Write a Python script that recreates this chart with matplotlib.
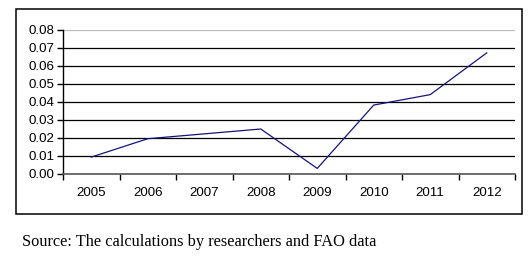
import numpy as np
import matplotlib
matplotlib.use("Agg")
import matplotlib.pyplot as plt
import matplotlib.ticker as mticker
from matplotlib.patches import Rectangle

# data
years = ["2005", "2006", "2007", "2008", "2009", "2010", "2011", "2012"]
values = [0.0094, 0.0196, 0.0223, 0.0250, 0.0031, 0.0383, 0.0441, 0.0673]
y_ticks = [0.00, 0.01, 0.02, 0.03, 0.04, 0.05, 0.06, 0.07, 0.08]

W, H = 531, 256
fig = plt.figure(figsize=(W / 100, H / 100), dpi=100, facecolor="white")

# outer frame around the chart
fig.patches.append(Rectangle((16 / W, 1 - 214 / H), (522 - 16) / W, (214 - 9) / H,
                             transform=fig.transFigure, fill=False,
                             edgecolor="black", linewidth=1.1))

ax = fig.add_axes([63 / W, 1 - 174 / H, (515 - 63) / W, 144 / H])
x = np.arange(len(years))
ax.plot(x, values, color="#14147a", linewidth=0.9, zorder=3)

ax.set_xlim(-0.5, len(years) - 0.5)
ax.set_ylim(0, 0.08)
ax.set_yticks(y_ticks)
ax.yaxis.set_major_formatter(mticker.FormatStrFormatter("%.2f"))

# category axis: tick marks between categories, labels centered
ax.set_xticks(x)
ax.set_xticklabels(years)
ax.set_xticks(np.arange(-0.5, len(years)), minor=True)
ax.tick_params(axis="x", which="major", length=0, pad=9)
ax.tick_params(axis="x", which="minor", length=4, width=1, direction="out", color="black")
ax.tick_params(axis="y", length=4, width=1, direction="out", pad=2)

for t in ax.get_xticklabels() + ax.get_yticklabels():
    t.set_fontfamily("Liberation Sans")
    t.set_fontsize(9.6)

# horizontal gridlines
for v in y_ticks[1:]:
    col = "#b8b8b8" if v == 0.08 else "black"
    ax.axhline(v, color=col, linewidth=0.9, zorder=1)

ax.spines[["top", "right"]].set_visible(False)
ax.spines["left"].set_color("black")
ax.spines["bottom"].set_color("#555555")
ax.spines["left"].set_linewidth(1)
ax.spines["bottom"].set_linewidth(1.2)

fig.text(22 / W, 1 - 242 / H, "Source: The calculations by researchers and FAO data",
         fontfamily="Liberation Serif", fontsize=11.8, ha="left", va="center")

fig.savefig("out.png", dpi=100, facecolor="white")
